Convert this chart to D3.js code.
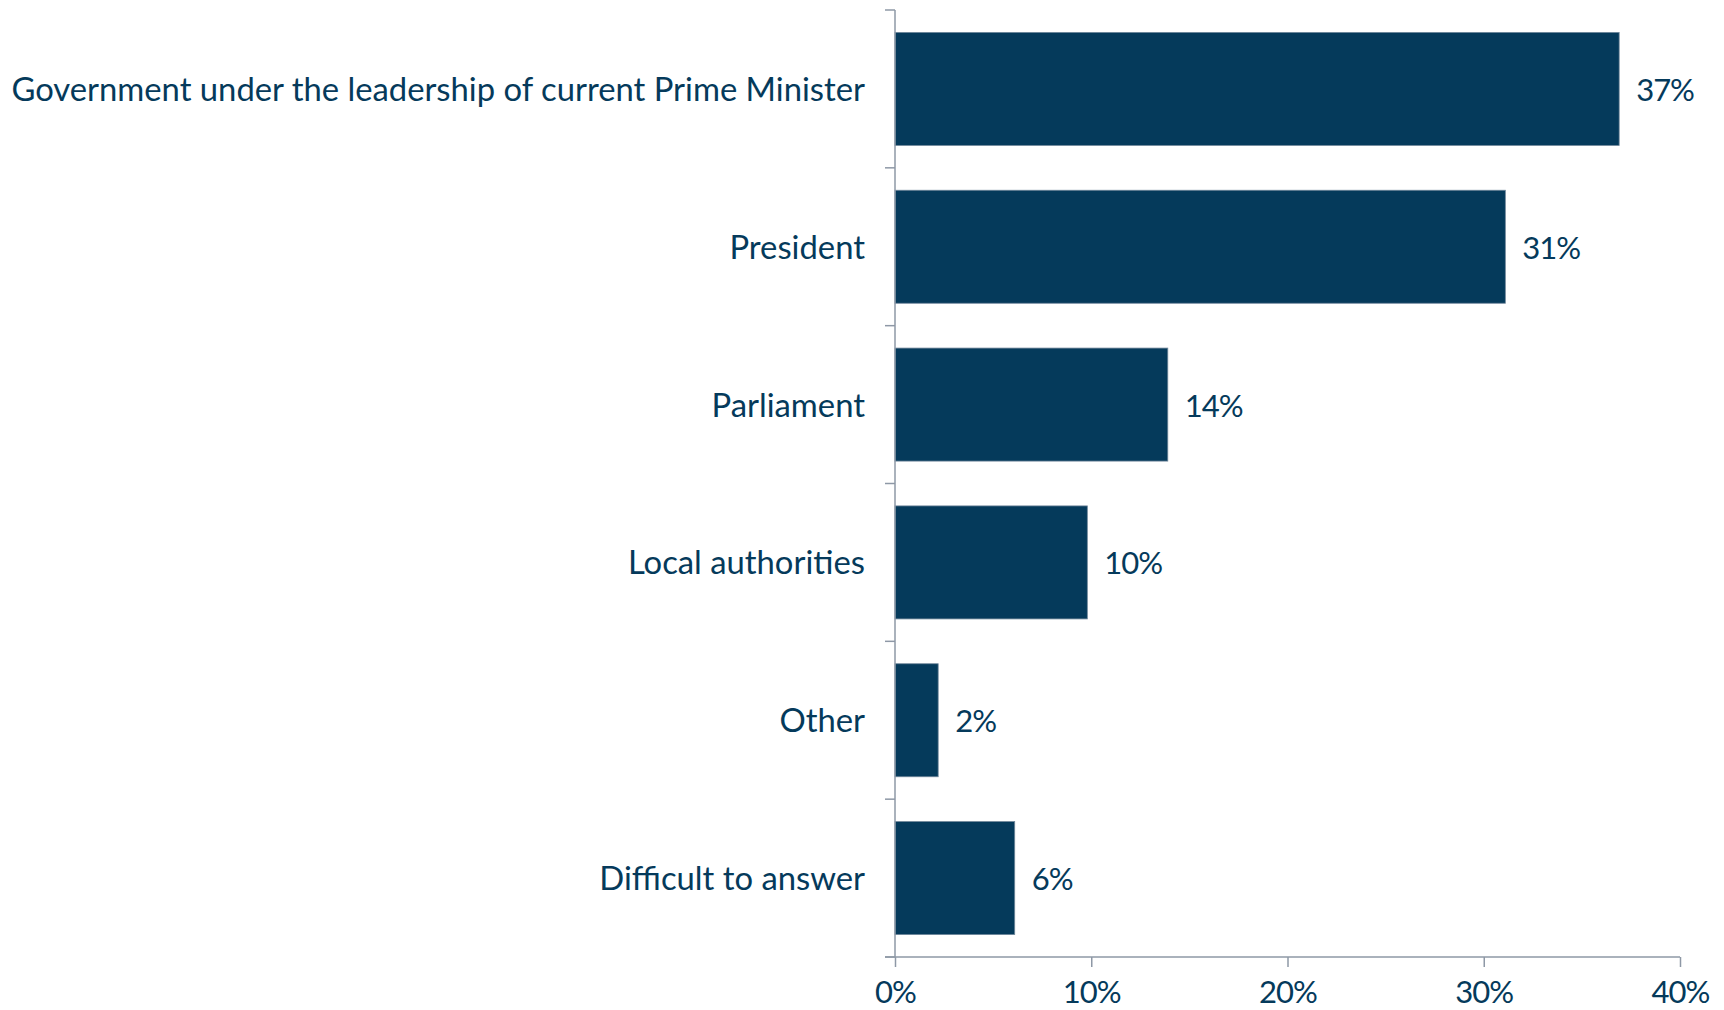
<!DOCTYPE html>
<html><head><meta charset="utf-8">
<script src="https://cdn.jsdelivr.net/npm/d3@7"></script>
<style>html,body{margin:0;padding:0;background:#fff;overflow:hidden}</style>
</head><body><svg id="c" width="1724" height="1010"></svg>
<script>
const categories = ["Government under the leadership of current Prime Minister","President","Parliament","Local authorities","Other","Difficult to answer"];
const values = [36.9, 31.1, 13.9, 9.8, 2.2, 6.1];
const xTicks = [0, 10, 20, 30, 40];

const W = 1724, H = 1010;
const navy = "#053a5b", axisCol = "#8e98a6";
const FONT = "Lato, 'DejaVu Sans', sans-serif";
const svg = d3.select("#c");
const x = d3.scaleLinear().domain([0, 40]).range([895, 1680]);
const y = d3.scaleBand().domain(categories).range([10, 957]).paddingInner(0.284).paddingOuter(0.142);
const edge = d3.scaleLinear().domain([0, categories.length]).range([10, 957]);

// bars
svg.append("g").selectAll("rect").data(categories).join("rect")
  .attr("x", x(0)).attr("y", d => y(d))
  .attr("width", (d,i) => x(values[i]) - x(0)).attr("height", y.bandwidth())
  .attr("fill", navy).attr("stroke", "#6f869a").attr("stroke-width", 0.8);

// value labels
svg.append("g").selectAll("text").data(categories).join("text")
  .attr("x", (d,i) => x(values[i]) + 17).attr("y", d => y(d) + y.bandwidth()/2 + 12)
  .attr("font-family", FONT).attr("font-size", 31).attr("fill", navy)
  .attr("letter-spacing", -1)
  .text((d,i) => d3.format(".0f")(values[i]) + "%");

// category labels
svg.append("g").selectAll("text").data(categories).join("text")
  .attr("x", 865).attr("y", d => y(d) + y.bandwidth()/2 + 12)
  .attr("text-anchor", "end")
  .attr("font-family", FONT).attr("font-size", 32.8).attr("fill", navy)
  .text(d => d);

// left axis (ticks at band edges)
const ax = svg.append("g").attr("stroke", axisCol).attr("stroke-width", 1.5);
ax.append("line").attr("x1", x(0)).attr("x2", x(0)).attr("y1", edge(0)).attr("y2", edge(categories.length));
ax.selectAll("line.t").data(d3.range(categories.length + 1)).join("line").attr("class","t")
  .attr("x1", x(0) - 10).attr("x2", x(0)).attr("y1", d => edge(d)).attr("y2", d => edge(d));

// bottom axis
const bx = svg.append("g").attr("transform", `translate(0,${edge(categories.length)})`)
  .call(d3.axisBottom(x).tickValues(xTicks).tickSize(10).tickSizeOuter(0).tickFormat(d => d + "%"));
bx.select(".domain").remove();
bx.selectAll("line").attr("stroke", axisCol).attr("stroke-width", 1.5);
bx.selectAll("text").attr("font-family", FONT).attr("font-size", 31).attr("fill", navy)
  .attr("letter-spacing", -1).attr("dy", "1.08em");
svg.append("line").attr("x1", x(0) - 10).attr("x2", x(40)).attr("y1", edge(categories.length)).attr("y2", edge(categories.length))
  .attr("stroke", axisCol).attr("stroke-width", 1.5);
</script></body></html>
